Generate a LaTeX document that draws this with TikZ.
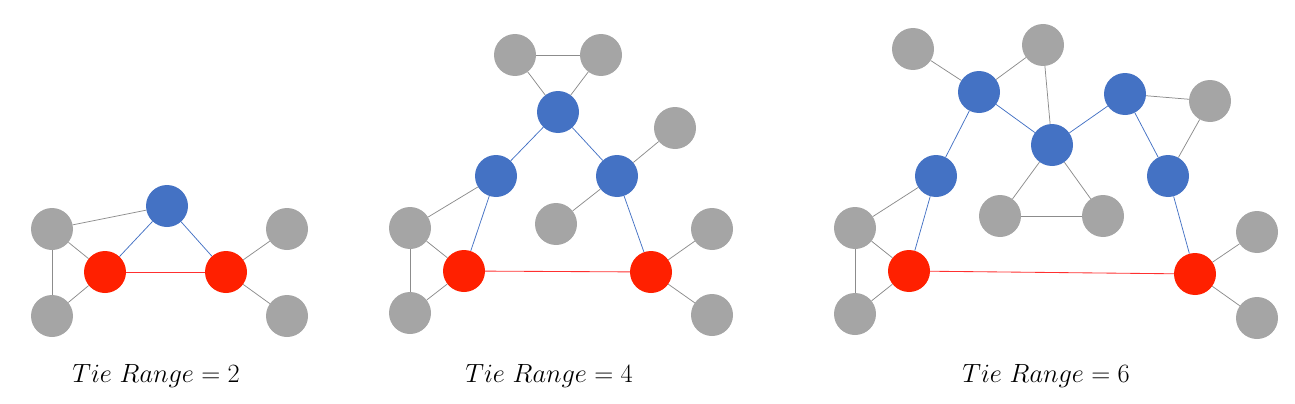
\documentclass[tikz,border=0pt]{standalone}
\usepackage{amsmath}
\definecolor{nblue}{HTML}{4472C4}
\definecolor{nred}{HTML}{FF2000}
\definecolor{ngray}{HTML}{A5A5A5}
\definecolor{egray}{HTML}{8C8C8C}
\definecolor{ered}{HTML}{FF3030}
\tikzset{
  vx/.style={circle, minimum size=42pt, inner sep=0pt, draw=none},
  gv/.style={vx, fill=ngray},
  bv/.style={vx, fill=nblue},
  rv/.style={vx, fill=nred},
  ge/.style={draw=egray, line width=0.75pt},
  be/.style={draw=nblue, line width=0.75pt},
  re/.style={draw=ered, line width=0.85pt},
  lbl/.style={font=\Huge, inner sep=0pt, scale=1.06, transform shape}
}
\begin{document}
\begin{tikzpicture}[x=1pt, y=-1pt]
\useasboundingbox (0,0) rectangle (1295,404);
% ---------- Panel 1 ----------
\node[bv] (p1b) at (167,206) {};
\node[gv] (p1g1) at (52,229) {};
\node[gv] (p1g2) at (52,316) {};
\node[rv] (p1r1) at (105,272) {};
\node[rv] (p1r2) at (226,272) {};
\node[gv] (p1g3) at (287,229) {};
\node[gv] (p1g4) at (287,316) {};
\draw[ge] (p1g1) -- (p1b);
\draw[ge] (p1g1) -- (p1g2);
\draw[ge] (p1g1) -- (p1r1);
\draw[ge] (p1g2) -- (p1r1);
\draw[be] (p1b) -- (p1r1);
\draw[be] (p1b) -- (p1r2);
\draw[re] (p1r1) -- (p1r2);
\draw[ge] (p1r2) -- (p1g3);
\draw[ge] (p1r2) -- (p1g4);
\node[lbl] (l1) at (156,376) {$Tie\ Range = 2$};
% ---------- Panel 2 ----------
\node[gv] (p2g1) at (515,55) {};
\node[gv] (p2g2) at (601,55) {};
\node[bv] (p2b1) at (558,112) {};
\node[gv] (p2g3) at (675,128) {};
\node[bv] (p2b2) at (496,176) {};
\node[bv] (p2b3) at (617,176) {};
\node[gv] (p2g4) at (556,224) {};
\node[gv] (p2g5) at (410,228) {};
\node[gv] (p2g6) at (410,313) {};
\node[rv] (p2r1) at (464,271) {};
\node[rv] (p2r2) at (651,272) {};
\node[gv] (p2g7) at (712,229) {};
\node[gv] (p2g8) at (712,315) {};
\draw[ge] (p2g1) -- (p2g2);
\draw[ge] (p2g1) -- (p2b1);
\draw[ge] (p2g2) -- (p2b1);
\draw[be] (p2b1) -- (p2b2);
\draw[be] (p2b1) -- (p2b3);
\draw[ge] (p2b3) -- (p2g3);
\draw[ge] (p2b3) -- (p2g4);
\draw[ge] (p2b2) -- (p2g5);
\draw[be] (p2b2) -- (p2r1);
\draw[be] (p2b3) -- (p2r2);
\draw[ge] (p2g5) -- (p2g6);
\draw[ge] (p2g5) -- (p2r1);
\draw[ge] (p2g6) -- (p2r1);
\draw[re] (p2r1) -- (p2r2);
\draw[ge] (p2r2) -- (p2g7);
\draw[ge] (p2r2) -- (p2g8);
\node[lbl] (l2) at (549,376) {$Tie\ Range = 4$};
% ---------- Panel 3 ----------
\node[gv] (p3g1) at (913,49) {};
\node[gv] (p3g2) at (1043,45) {};
\node[bv] (p3b1) at (979,92) {};
\node[bv] (p3b2) at (1125,94) {};
\node[bv] (p3b3) at (1052,145) {};
\node[gv] (p3g3) at (1210,101) {};
\node[bv] (p3b4) at (936,176) {};
\node[bv] (p3b5) at (1168,176) {};
\node[gv] (p3g4) at (1000,216) {};
\node[gv] (p3g5) at (1103,216) {};
\node[gv] (p3g6) at (855,228) {};
\node[gv] (p3g7) at (855,314) {};
\node[rv] (p3r1) at (909,271) {};
\node[rv] (p3r2) at (1195,274) {};
\node[gv] (p3g8) at (1257,232) {};
\node[gv] (p3g9) at (1257,318) {};
\draw[ge] (p3g1) -- (p3b1);
\draw[ge] (p3g2) -- (p3b1);
\draw[ge] (p3g2) -- (p3b3);
\draw[be] (p3b1) -- (p3b3);
\draw[be] (p3b3) -- (p3b2);
\draw[ge] (p3b2) -- (p3g3);
\draw[ge] (p3g3) -- (p3b5);
\draw[be] (p3b2) -- (p3b5);
\draw[be] (p3b1) -- (p3b4);
\draw[ge] (p3b4) -- (p3g6);
\draw[be] (p3b4) -- (p3r1);
\draw[ge] (p3b3) -- (p3g4);
\draw[ge] (p3b3) -- (p3g5);
\draw[ge] (p3g4) -- (p3g5);
\draw[ge] (p3g6) -- (p3g7);
\draw[ge] (p3g6) -- (p3r1);
\draw[ge] (p3g7) -- (p3r1);
\draw[re] (p3r1) -- (p3r2);
\draw[be] (p3b5) -- (p3r2);
\draw[ge] (p3r2) -- (p3g8);
\draw[ge] (p3r2) -- (p3g9);
\node[lbl] (l3) at (1046,376) {$Tie\ Range = 6$};
\end{tikzpicture}
\end{document}
